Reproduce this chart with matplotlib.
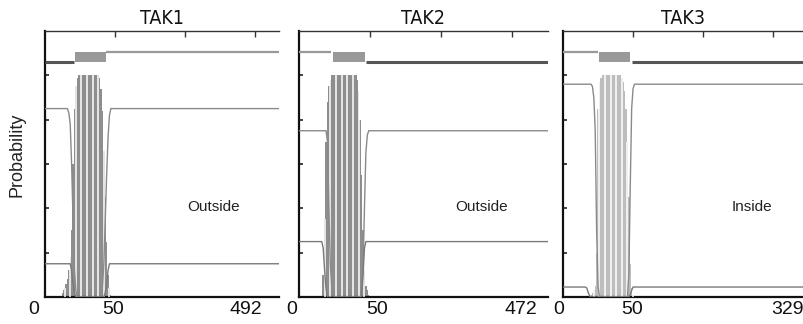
import matplotlib
matplotlib.use("Agg")
import matplotlib.pyplot as plt
import numpy as np

# ---------------- data ----------------
titles = ["TAK1", "TAK2", "TAK3"]
seq_lengths = ["492", "472", "329"]
region_labels = ["Outside", "Outside", "Inside"]
x_limits = [167, 175, 172]

# TM-helix probability (per residue)
tm1_x = [12, 13, 14, 15, 16, 17, 18, 19, 20, 21, 22, 23, 24, 25, 26, 27, 28, 29, 30, 31, 32, 33, 34, 35, 36,
         37, 38, 39, 40, 41, 42, 43, 44, 45, 46, 47]
tm1_p = [0.02, 0.03, 0.04, 0.06, 0.08, 0.12, 0.18, 0.30, 0.60, 0.85, 0.95, 0.99, 1.0, 1.0, 1.0, 1.0, 1.0, 1.0,
         1.0, 1.0, 1.0, 1.0, 1.0, 1.0, 1.0, 1.0, 1.0, 0.99, 0.94, 0.84, 0.66, 0.45, 0.25, 0.10, 0.04, 0.01]
tm2_x = [16, 17, 18, 19, 20, 21, 22, 23, 24, 25, 26, 27, 28, 29, 30, 31, 32, 33, 34, 35, 36, 37, 38, 39, 40,
         41, 42, 43, 44, 45, 46, 47, 48, 49]
tm2_p = [0.03, 0.10, 0.35, 0.70, 0.88, 0.95, 0.98, 1.0, 1.0, 1.0, 1.0, 1.0, 1.0, 1.0, 1.0, 1.0, 1.0, 1.0, 1.0,
         1.0, 1.0, 1.0, 1.0, 1.0, 1.0, 0.98, 0.93, 0.80, 0.55, 0.30, 0.12, 0.05, 0.03, 0.01]
tm3_x = [20, 21, 22, 23, 24, 25, 26, 27, 28, 29, 30, 31, 32, 33, 34, 35, 36, 37, 38, 39, 40, 41, 42, 43, 44,
         45, 46, 47, 48, 49, 50]
tm3_p = [0.01, 0.02, 0.03, 0.05, 0.20, 0.85, 0.97, 0.99, 1.0, 1.0, 1.0, 1.0, 1.0, 1.0, 1.0, 1.0, 1.0, 1.0, 1.0,
         1.0, 1.0, 1.0, 0.99, 0.97, 0.93, 0.85, 0.70, 0.45, 0.15, 0.04, 0.01]

# upper probability curves
up1_x = [0, 16, 17, 18, 19, 20, 21, 22, 23, 40, 41, 42, 43, 44, 45, 46, 47, 167]
up1_p = [0.85, 0.85, 0.83, 0.78, 0.60, 0.35, 0.12, 0.03, 0.0, 0.0, 0.05, 0.15, 0.35, 0.55, 0.72, 0.82, 0.85, 0.85]
up2_x = [0, 19, 20, 21, 22, 23, 24, 25, 43, 44, 45, 46, 47, 48, 49, 175]
up2_p = [0.75, 0.75, 0.70, 0.40, 0.15, 0.05, 0.02, 0.0, 0.0, 0.03, 0.12, 0.40, 0.65, 0.73, 0.75, 0.75]
up3_x = [0, 20, 21, 22, 23, 24, 25, 26, 46, 47, 48, 49, 50, 51, 172]
up3_p = [0.96, 0.96, 0.95, 0.90, 0.75, 0.30, 0.05, 0.0, 0.0, 0.10, 0.50, 0.85, 0.94, 0.96, 0.96]

# lower probability curves
lo1_x = [0, 18, 19, 20, 21, 22, 42, 43, 44, 45, 46, 167]
lo1_p = [0.15, 0.15, 0.12, 0.06, 0.02, 0.0, 0.0, 0.02, 0.06, 0.12, 0.15, 0.15]
lo2_x = [0, 16, 17, 18, 19, 20, 44, 45, 46, 47, 175]
lo2_p = [0.25, 0.25, 0.22, 0.12, 0.04, 0.0, 0.0, 0.10, 0.22, 0.25, 0.25]
lo3_x = [0, 16, 17, 18, 19, 20, 47, 48, 49, 50, 172]
lo3_p = [0.045, 0.045, 0.04, 0.02, 0.005, 0.0, 0.0, 0.01, 0.03, 0.045, 0.045]

# topology segments: (start, end)
tm_box = [(21.4, 43.6), (24.0, 46.5), (25.7, 48.0)]
pre_seg = [(0, 20.5), (0, 22.5), (0, 25.0)]
post_seg = [(43.6, 167), (47.0, 175), (49.0, 172)]
pre_side = ["in", "out", "out"]
post_side = ["out", "in", "in"]

label_pos = [(120, 0.405), (128, 0.405), (135, 0.405)]
tick_label_x = [(-8, 48.5, 143), (-5, 55, 156), (-3, 49, 160)]

tm_x = [tm1_x, tm2_x, tm3_x]
tm_p = [tm1_p, tm2_p, tm3_p]
up_x = [up1_x, up2_x, up3_x]
up_p = [up1_p, up2_p, up3_p]
lo_x = [lo1_x, lo2_x, lo3_x]
lo_p = [lo1_p, lo2_p, lo3_p]

# ---------------- styling ----------------
W, H = 804, 324
fig = plt.figure(figsize=(W / 100, H / 100), dpi=100)
plt.rcParams['font.family'] = ['Liberation Sans', 'DejaVu Sans']

ax_px = [(45, 279), (299, 548), (563, 804)]
top_px, bot_px = 31, 297
level = {"in": 1.06, "out": 1.105}
line_col = {"in": "#555555", "out": "#999999"}
line_w = {"in": 2.2, "out": 1.6}
bar_cols = ["#8e8e8e", "#8e8e8e", "#bdbdbd"]

for i in range(3):
    l, r = ax_px[i]
    ax = fig.add_axes([l / W, 1 - bot_px / H, (r - l) / W, (bot_px - top_px) / H])
    ax.set_xlim(0, x_limits[i])
    ax.set_ylim(0, 1.2)

    # helix probability as impulses
    xs = np.array(tm_x[i])
    ps = np.array(tm_p[i])
    ax.fill_between(xs, 0, ps, step="mid", color=bar_cols[i], linewidth=0, zorder=2)
    ax.vlines(xs[2::4], 0, ps[2::4], colors="white", linewidth=1.1, zorder=3)

    # probability curves
    ax.plot(up_x[i], up_p[i], color="#8a8a8a", lw=1.0, zorder=4)
    ax.plot(lo_x[i], lo_p[i], color="#7a7a7a", lw=1.0, zorder=4)

    # topology line
    s, e = pre_seg[i]
    ax.plot([s, e], [level[pre_side[i]]] * 2, color=line_col[pre_side[i]],
            lw=line_w[pre_side[i]], solid_capstyle="butt", zorder=4)
    s, e = post_seg[i]
    ax.plot([s, e], [level[post_side[i]]] * 2, color=line_col[post_side[i]],
            lw=line_w[post_side[i]], solid_capstyle="butt", zorder=4)
    b0, b1 = tm_box[i]
    ax.fill_between([b0, b1], level["in"], level["out"], color="#999999", lw=0, zorder=4)

    # spines
    ax.spines["right"].set_visible(False)
    ax.spines["left"].set_linewidth(1.6)
    ax.spines["left"].set_color("#111111")
    ax.spines["bottom"].set_linewidth(1.6)
    ax.spines["bottom"].set_color("#111111")
    ax.spines["top"].set_linewidth(1.0)
    ax.spines["top"].set_color("#333333")

    ax.set_yticks([0, 0.2, 0.4, 0.6, 0.8, 1.0])
    ax.tick_params(axis="y", direction="in", length=3, width=1.2, labelleft=False, color="#222222")
    ax.set_xticks([50, 100, 150])
    ax.tick_params(axis="x", direction="in", length=4, width=1.0, bottom=False, top=True,
                   labelbottom=False, labeltop=False, color="#333333")

    for xt, lab in zip(tick_label_x[i], ["0", "50", seq_lengths[i]]):
        ax.text(xt, -0.015, lab, transform=ax.get_xaxis_transform(), ha="center", va="top",
                fontsize=14, color="#111111")

    ax.text(label_pos[i][0], label_pos[i][1], region_labels[i], ha="center", va="center",
            fontsize=11, color="#222222")
    ax.set_title(titles[i], fontsize=14, pad=5, color="#111111", fontfamily="DejaVu Sans",
                 fontstretch="condensed")

fig.text(17 / W, 1 - 155 / H, "Probability", rotation=90, ha="center", va="center",
         fontsize=13, color="#222222")

fig.savefig("out.png", dpi=100)
